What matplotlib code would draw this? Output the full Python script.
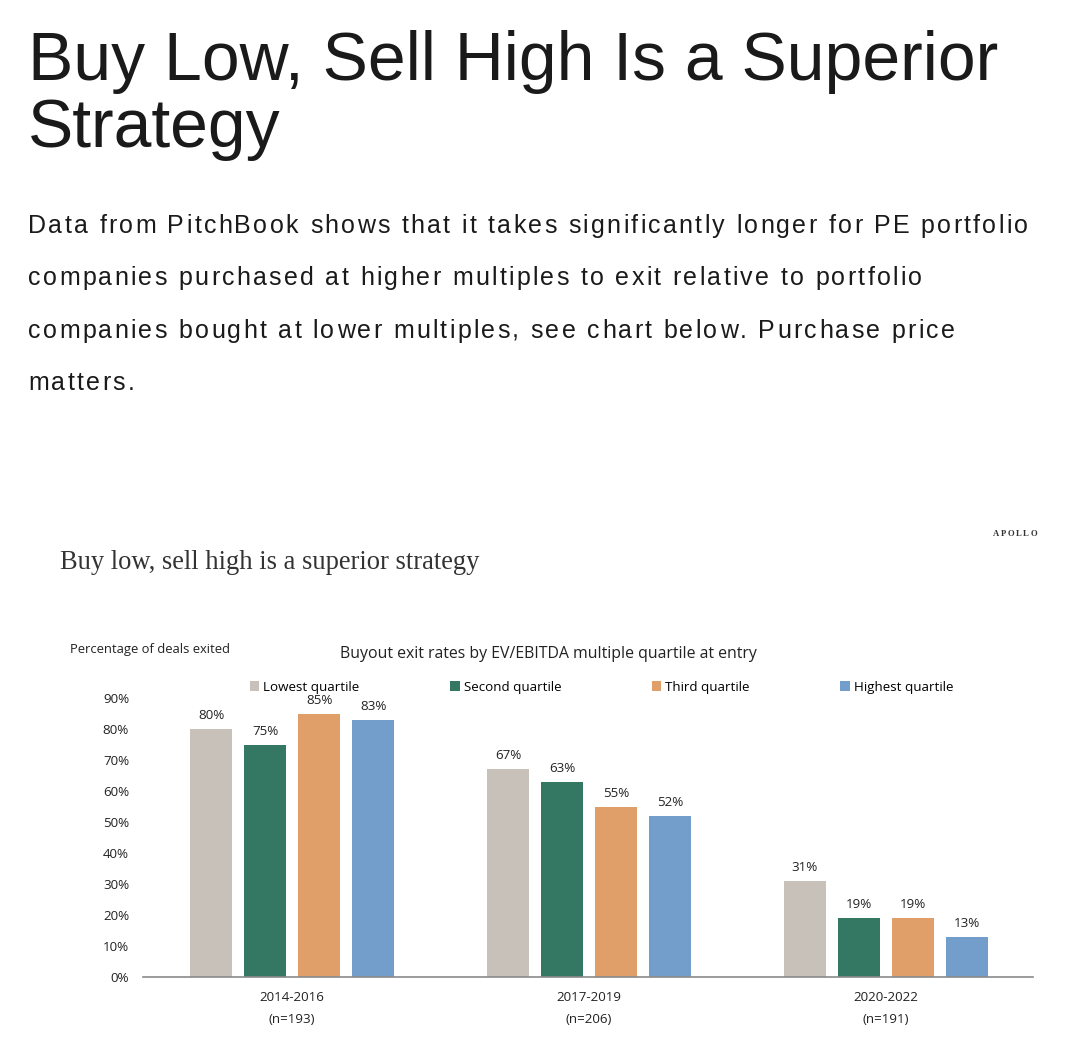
import matplotlib
matplotlib.use("Agg")
import matplotlib.pyplot as plt
from matplotlib.font_manager import FontProperties, findfont, get_font
import numpy as np

periods = ["2014-2016", "2017-2019", "2020-2022"]
counts = ["(n=193)", "(n=206)", "(n=191)"]
quartiles = ["Lowest quartile", "Second quartile", "Third quartile", "Highest quartile"]
lowest = [80, 67, 31]
second = [75, 63, 19]
third = [85, 55, 19]
highest = [83, 52, 13]
yticks = [0, 10, 20, 30, 40, 50, 60, 70, 80, 90]

colors = ["#c8c1b9", "#347762", "#e09f69", "#739ecb"]
series = [lowest, second, third, highest]

W, H = 1086, 1044
DPI = 100
fig = plt.figure(figsize=(W / DPI, H / DPI), dpi=DPI)
fig.patch.set_facecolor("white")


def fx(px):
    return px / W


def fy(py):
    return 1 - py / H


def advances(s, prop, size):
    font = get_font(findfont(prop))
    font.set_size(size, DPI)
    return [font.load_char(ord(ch)).linearHoriAdvance / 65536.0 for ch in s]


def tracked_text(x_px, y_px, s, family, size, tracking_px, color, weight="normal", align="left"):
    prop = FontProperties(family=family, size=size, weight=weight)
    advs = advances(s, prop, size)
    total = sum(advs) + tracking_px * (len(s) - 1)
    x = x_px if align == "left" else x_px - total
    for ch, a in zip(s, advs):
        if ch != " ":
            fig.text(fx(x), fy(y_px), ch, fontproperties=prop, color=color,
                     va="baseline", ha="left")
        x += a + tracking_px


# Page header
fig.text(fx(28), fy(80), "Buy Low, Sell High Is a Superior", fontsize=48.9,
         family="Liberation Sans", color="#1a1a1a", va="baseline", ha="left")
fig.text(fx(28), fy(147), "Strategy", fontsize=48.9,
         family="Liberation Sans", color="#1a1a1a", va="baseline", ha="left")

para = [
    "Data from PitchBook shows that it takes significantly longer for PE portfolio",
    "companies purchased at higher multiples to exit relative to portfolio",
    "companies bought at lower multiples, see chart below. Purchase price",
    "matters.",
]
psize = 18.0
pprop = FontProperties(family="Liberation Sans", size=psize)
first_adv = advances(para[0], pprop, psize)
track = (1000.0 - sum(first_adv)) / (len(para[0]) - 1)
for i, line in enumerate(para):
    tracked_text(28, 233 + 52.3 * i, line, "Liberation Sans", psize, track, "#1a1a1a")

# Chart header
fig.text(fx(60), fy(569), "Buy low, sell high is a superior strategy", fontsize=19.1,
         family="Liberation Serif", color="#333333", va="baseline", ha="left")
tracked_text(1037, 536, "APOLLO", "Liberation Serif", 6.2, 1.6, "#333333",
             weight="bold", align="right")

sans = "Open Sans"
fs = 9.6
fig.text(fx(70), fy(653), "Percentage of deals exited", fontsize=9.4,
         family=sans, color="#222222", va="baseline", ha="left")
fig.text(fx(548), fy(658), "Buyout exit rates by EV/EBITDA multiple quartile at entry",
         fontsize=11.4, family=sans, color="#222222", va="baseline", ha="center")

# Axes
ax = fig.add_axes([fx(143), fy(977), fx(1033) - fx(143), (977 - 698) / H])
x = np.arange(len(periods))
width = 0.141
step = 0.182
offsets = (np.arange(4) - 1.5) * step
bars = []
for k, (vals, c, lab) in enumerate(zip(series, colors, quartiles)):
    b = ax.bar(x + offsets[k], vals, width=width, color=c, label=lab, zorder=2)
    bars.append(b)
    for xi, v in zip(x + offsets[k], vals):
        ax.annotate(f"{v}%", (xi, v), xytext=(0, 5), textcoords="offset points",
                    ha="center", va="bottom", fontsize=fs, family=sans,
                    color="#222222", annotation_clip=False)

ax.set_xlim(-0.502, 2.495)
ax.set_ylim(0, 90)
ax.set_yticks(yticks)
ax.set_yticklabels([f"{t}%" for t in yticks], fontsize=fs, family=sans, color="#222222")
ax.set_xticks(x)
ax.set_xticklabels([f"{p}\n{n}" for p, n in zip(periods, counts)], fontsize=fs,
                   family=sans, color="#222222", linespacing=1.95)
ax.tick_params(axis="both", length=0)
ax.tick_params(axis="y", pad=10)
ax.tick_params(axis="x", pad=10)
for s in ["top", "right", "left"]:
    ax.spines[s].set_visible(False)
ax.spines["bottom"].set_color("#8a8a8a")
ax.spines["bottom"].set_linewidth(1.2)
ax.set_facecolor("white")

leg = ax.legend(handles=bars, labels=quartiles, ncol=4, frameon=False,
                loc="center left", bbox_to_anchor=(fx(250), fy(687)),
                bbox_transform=fig.transFigure,
                prop={"family": sans, "size": fs}, handlelength=0.7, handleheight=0.7,
                handletextpad=0.3, columnspacing=6.8, borderaxespad=0, borderpad=0)

fig.savefig("out.png", dpi=DPI, facecolor="white")
